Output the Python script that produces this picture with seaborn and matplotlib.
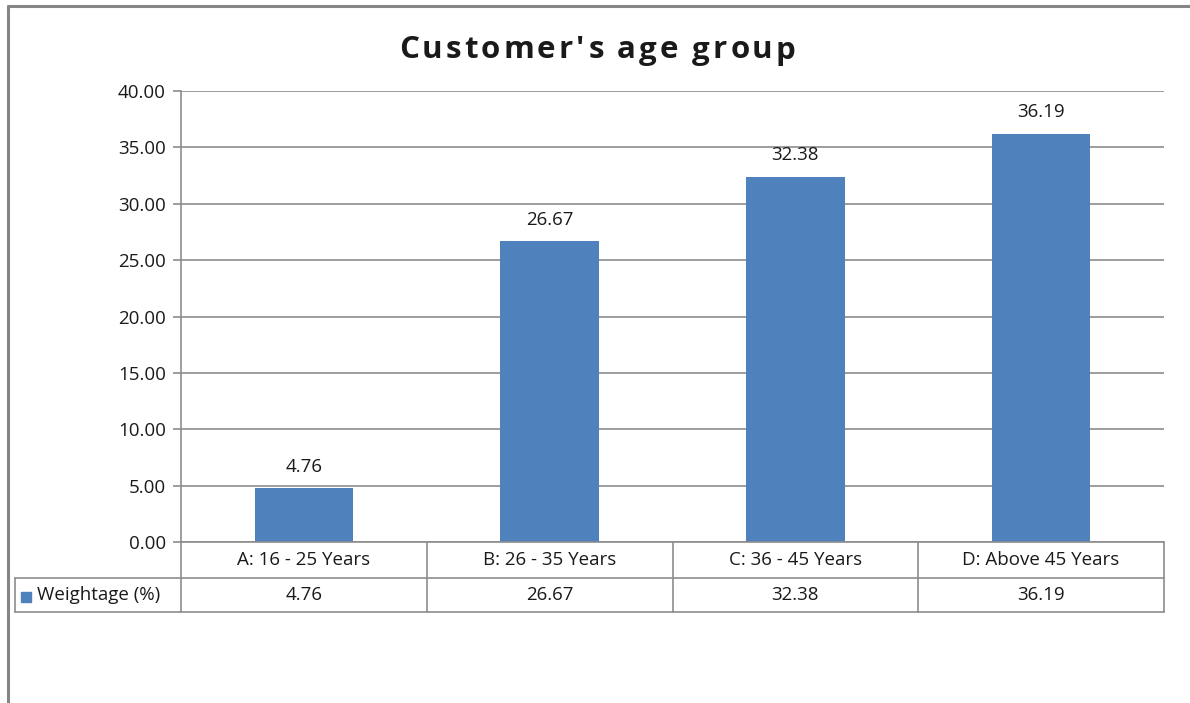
import matplotlib
matplotlib.use("Agg")
import matplotlib.pyplot as plt
from matplotlib.lines import Line2D
from matplotlib.patches import Rectangle
from matplotlib.font_manager import FontProperties
import seaborn as sns
import pandas as pd

# Survey data: share of customers per age band
categories = ["A: 16 - 25 Years", "B: 26 - 35 Years", "C: 36 - 45 Years", "D: Above 45 Years"]
weightage = [4.76, 26.67, 32.38, 36.19]
series_name = "Weightage (%)"
title = "Customer's age group"
y_ticks = [0, 5, 10, 15, 20, 25, 30, 35, 40]

BAR = "#4F81BD"
GRID = "#8C8C8C"
TEXT = "#1a1a1a"

sns.set_theme(style="white")
plt.rcParams["font.family"] = ["Open Sans", "DejaVu Sans"]

W, H = 1190, 703
fig = plt.figure(figsize=(W / 100, H / 100), dpi=100)

def fx(px):
    return px / W

def fy(py):
    return 1 - py / H

# plot area in pixel coordinates
left, right, top, bottom = 181, 1164, 91, 542
ax = fig.add_axes([fx(left), fy(bottom), fx(right - left), fy(top) - fy(bottom)])

df = pd.DataFrame({"group": categories, "value": weightage})
sns.barplot(data=df, x="group", y="value", color=BAR, saturation=1, width=0.4,
            ax=ax, edgecolor="none")

ax.set_ylim(0, 40)
ax.set_xlim(-0.5, len(categories) - 0.5)
ax.set_yticks(y_ticks)
ax.set_yticklabels([f"{v:.2f}" for v in y_ticks], fontsize=13.5, color=TEXT)
ax.set_xticks([])
ax.set_xlabel("")
ax.set_ylabel("")
ax.yaxis.grid(True, color=GRID, linewidth=1.2)
ax.set_axisbelow(True)
ax.tick_params(axis="y", length=6, width=1.2, color=GRID, pad=5, left=True)
for s in ("top", "right", "bottom"):
    ax.spines[s].set_visible(False)
ax.spines["left"].set_color(GRID)
ax.spines["left"].set_linewidth(1.2)

# value labels above bars
for i, v in enumerate(weightage):
    ax.annotate(f"{v:.2f}", (i, v), xytext=(0, 9), textcoords="offset points",
                ha="center", va="bottom", fontsize=13.5, color=TEXT)

# letter-spaced bold title, laid out glyph by glyph
renderer = fig.canvas.get_renderer()
tprop = FontProperties(family=["Open Sans", "DejaVu Sans"], weight="bold", size=22.5)
track = 3.0  # extra pixels between letters
advances = []
for k in range(len(title) + 1):
    w_k, _, _ = renderer.get_text_width_height_descent(title[:k], tprop, ismath=False) if k else (0, 0, 0)
    advances.append(w_k + track * k)
total = advances[-1] - track
x0 = 597 - total / 2
for k, ch in enumerate(title):
    if ch != " ":
        fig.text(fx(x0 + advances[k]), fy(47), ch, ha="left", va="center_baseline",
                 fontproperties=tprop, color=TEXT)

# data table beneath the plot area
row1, row2, row3 = 542, 578, 612
tab_left = 15
col_w = (right - left) / len(categories)
cols = [left + i * col_w for i in range(len(categories) + 1)]

def fline(x0, y0, x1, y1, lw=1.2, color=GRID):
    fig.add_artist(Line2D([fx(x0), fx(x1)], [fy(y0), fy(y1)], color=color, lw=lw,
                          transform=fig.transFigure))

fline(left, row1, right, row1)
fline(tab_left, row2, right, row2)
fline(tab_left, row3, right, row3)
fline(tab_left, row2, tab_left, row3)
for c in cols:
    fline(c, row1, c, row3)

for i, (cat, v) in enumerate(zip(categories, weightage)):
    cx = (cols[i] + cols[i + 1]) / 2
    fig.text(fx(cx), fy((row1 + row2) / 2), cat, ha="center", va="center",
             fontsize=13.5, color=TEXT)
    fig.text(fx(cx), fy((row2 + row3) / 2), f"{v:.2f}", ha="center", va="center",
             fontsize=13.5, color=TEXT)

fig.add_artist(Rectangle((fx(21), fy(602)), fx(10), fy(592) - fy(602), color=BAR,
                         transform=fig.transFigure))
fig.text(fx(37), fy((row2 + row3) / 2), series_name, ha="left", va="center",
         fontsize=13.5, color=TEXT)

# chart frame
fline(8, 6, W, 6, lw=2.2, color="#858585")
fline(8, 6, 8, H, lw=2.2, color="#858585")

fig.savefig("out.png", dpi=100)
